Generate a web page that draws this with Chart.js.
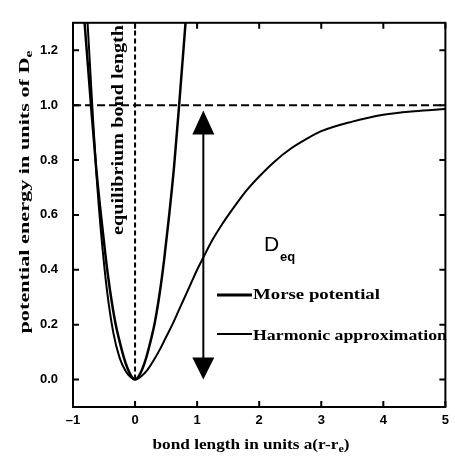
<!DOCTYPE html>
<html>
<head>
<meta charset="utf-8">
<script src="https://cdn.jsdelivr.net/npm/chart.js@4"></script>
<style>
  html, body { margin: 0; padding: 0; background: #fff; }
  #wrap { width: 455px; height: 460px; }
</style>
</head>
<body>
<div id="wrap"><canvas id="myChart"></canvas></div>
<script>
// values
const morseX = [-0.77, -0.72, -0.69, -0.62, -0.55, -0.45, -0.35, -0.25, -0.15, -0.07, 0,
                0.1, 0.2, 0.3, 0.4, 0.5, 0.6, 0.7, 0.8, 0.9, 1.0, 1.1, 1.25, 1.4, 1.6, 1.8,
                2.0, 2.25, 2.5, 2.75, 3.0, 3.5, 4.0, 4.5, 5.0];
const morseY = [1.32, 1.12, 1.00, 0.74, 0.54, 0.32, 0.17, 0.08, 0.03, 0.008, 0,
                0.012, 0.035, 0.07, 0.11, 0.155, 0.20, 0.25, 0.30, 0.35, 0.40, 0.445, 0.51, 0.565, 0.63, 0.69,
                0.74, 0.795, 0.84, 0.875, 0.905, 0.94, 0.965, 0.978, 0.986];

const harmX = [-0.82, -0.71, -0.63, -0.55, -0.47, -0.40, -0.32, -0.25, -0.18, -0.12, -0.06, 0,
               0.06, 0.12, 0.18, 0.25, 0.32, 0.40, 0.47, 0.55, 0.63, 0.71, 0.82];
const harmY = [1.32, 1.00, 0.78, 0.60, 0.44, 0.32, 0.21, 0.14, 0.08, 0.04, 0.012, 0,
               0.012, 0.04, 0.08, 0.14, 0.21, 0.32, 0.44, 0.60, 0.78, 1.00, 1.32];

const xTicks = [-1, 0, 1, 2, 3, 4, 5];
const xTickLabels = ['\u20131', '0', '1', '2', '3', '4', '5'];
const yTicks = [0, 0.2, 0.4, 0.6, 0.8, 1.0, 1.2];
const yTickLabels = ['0.0', '0.2', '0.4', '0.6', '0.8', '1.0', '1.2'];

const dissociation = 1.0;   // D_e level
const equilibrium = 0;      // r = r_e
const arrowX = 1.1;
const arrowFrom = 0.0;
const arrowTo = 0.98;

const ctx = document.getElementById('myChart');

function pts(xs, ys) {
  return xs.map((x, i) => ({x: x, y: ys[i]}));
}

const serif = "'Liberation Serif', 'DejaVu Serif', serif";
const sans = "'Liberation Sans', 'DejaVu Sans', sans-serif";

// the scanned lettering is wide and heavy: draw it at its height and stretch it
// sideways to the width it has in the scan. parts = [[text, isSubscript], ...]
function wideText(c, parts, size, width, cx, cy) {
  const fonts = parts.map(p => 'bold ' + (p[1] ? size * 0.7 : size) + 'px ' + serif);
  let total = 0;
  const widths = parts.map((p, i) => {
    c.font = fonts[i];
    const w = c.measureText(p[0]).width;
    total += w;
    return w;
  });
  c.save();
  c.translate(cx - width / 2, cy);
  c.scale(width / total, 1);
  c.textAlign = 'left';
  c.textBaseline = 'middle';
  let x = 0;
  parts.forEach((p, i) => {
    c.font = fonts[i];
    c.fillText(p[0], x, p[1] ? size * 0.3 : 0);
    x += widths[i];
  });
  c.restore();
}

const decorations = {
  id: 'decorations',
  afterDraw(chart) {
    const c = chart.ctx;
    const xs = chart.scales.x, ys = chart.scales.y;
    const a = chart.chartArea;
    c.save();
    c.strokeStyle = '#000';
    c.fillStyle = '#000';

    // frame
    c.lineWidth = 2;
    c.strokeRect(a.left, a.top, a.right - a.left, a.bottom - a.top);

    // inward ticks on all four sides
    c.beginPath();
    xTicks.forEach(v => {
      const px = xs.getPixelForValue(v);
      c.moveTo(px, a.bottom); c.lineTo(px, a.bottom - 6);
      c.moveTo(px, a.top); c.lineTo(px, a.top + 6);
    });
    yTicks.forEach(v => {
      const py = ys.getPixelForValue(v);
      c.moveTo(a.left, py); c.lineTo(a.left + 6, py);
      c.moveTo(a.right, py); c.lineTo(a.right - 6, py);
    });
    c.stroke();

    // double arrow for D_eq
    const ax = xs.getPixelForValue(arrowX);
    const aTop = ys.getPixelForValue(arrowTo);
    const aBot = ys.getPixelForValue(arrowFrom);
    c.beginPath();
    c.moveTo(ax, aTop + 20); c.lineTo(ax, aBot - 20);
    c.stroke();
    c.beginPath();
    c.moveTo(ax, aTop); c.lineTo(ax - 11, aTop + 24); c.lineTo(ax + 11, aTop + 24); c.closePath();
    c.fill();
    c.beginPath();
    c.moveTo(ax, aBot); c.lineTo(ax - 11, aBot - 22); c.lineTo(ax + 11, aBot - 22); c.closePath();
    c.fill();

    // D_eq label
    c.textBaseline = 'alphabetic';
    c.textAlign = 'left';
    c.font = '21px ' + sans;
    c.fillText('D', 264, 251);
    c.font = 'bold 13px ' + sans;
    c.fillText('eq', 280, 261);

    // legend
    c.lineWidth = 3;
    c.beginPath(); c.moveTo(217, 295); c.lineTo(252, 295); c.stroke();
    c.lineWidth = 2;
    c.beginPath(); c.moveTo(217, 334); c.lineTo(252, 334); c.stroke();
    wideText(c, [['Morse potential', false]], 15, 127, 253 + 127 / 2, 295);
    wideText(c, [['Harmonic approximation', false]], 15, 194, 253 + 194 / 2, 336);

    // rotated label along r = r_e
    c.save();
    c.translate(119, 130);
    c.rotate(-Math.PI / 2);
    wideText(c, [['equilibrium bond length', false]], 16, 210, 0, 0);
    c.restore();

    // y axis title
    c.save();
    c.translate(25, 192);
    c.rotate(-Math.PI / 2);
    wideText(c, [['potential energy in units of D', false], ['e', true]], 14, 283, 0, 0);
    c.restore();

    // x axis title
    wideText(c, [['bond length in units a(r-r', false], ['e', true], [')', false]], 14, 197, 251, 445);

    c.restore();
  }
};

new Chart(ctx, {
  type: 'scatter',
  data: {
    datasets: [
      {
        label: 'Morse potential',
        data: pts(morseX, morseY),
        showLine: true,
        borderColor: '#000',
        borderWidth: 2,
        pointRadius: 0,
        cubicInterpolationMode: 'monotone'
      },
      {
        label: 'Harmonic approximation',
        data: pts(harmX, harmY),
        showLine: true,
        borderColor: '#000',
        borderWidth: 2.5,
        pointRadius: 0,
        cubicInterpolationMode: 'monotone'
      },
      {
        label: 'D_e',
        data: [{x: -1, y: dissociation}, {x: 5, y: dissociation}],
        showLine: true,
        borderColor: '#000',
        borderWidth: 2,
        borderDash: [8, 4],
        pointRadius: 0
      },
      {
        label: 'r_e',
        data: [{x: equilibrium, y: 0}, {x: equilibrium, y: 1.3}],
        showLine: true,
        borderColor: '#000',
        borderWidth: 2,
        borderDash: [5, 3],
        pointRadius: 0
      }
    ]
  },
  options: {
    responsive: true,
    maintainAspectRatio: false,
    animation: false,
    devicePixelRatio: 1,
    layout: { padding: { top: 18, right: 2, left: 0, bottom: 0 } },
    plugins: {
      legend: { display: false },
      tooltip: { enabled: false }
    },
    scales: {
      x: {
        type: 'linear',
        min: -1,
        max: 5,
        grid: { display: false, drawTicks: false },
        border: { display: false },
        afterFit: s => { s.height = 53; },
        afterBuildTicks: s => { s.ticks = xTicks.map(v => ({value: v})); },
        ticks: {
          padding: 6,
          color: '#000',
          font: { family: sans, size: 13, weight: 'bold' },
          maxRotation: 0,
          callback: (v, i) => xTickLabels[i]
        }
      },
      y: {
        type: 'linear',
        min: -0.1,
        max: 1.3,
        grid: { display: false, drawTicks: false },
        border: { display: false },
        afterFit: s => { s.width = 73; },
        afterBuildTicks: s => { s.ticks = yTicks.map(v => ({value: v})); },
        ticks: {
          padding: 15,
          color: '#000',
          font: { family: sans, size: 13, weight: 'bold' },
          callback: (v, i) => yTickLabels[i]
        }
      }
    }
  },
  plugins: [decorations]
});
</script>
</body>
</html>
